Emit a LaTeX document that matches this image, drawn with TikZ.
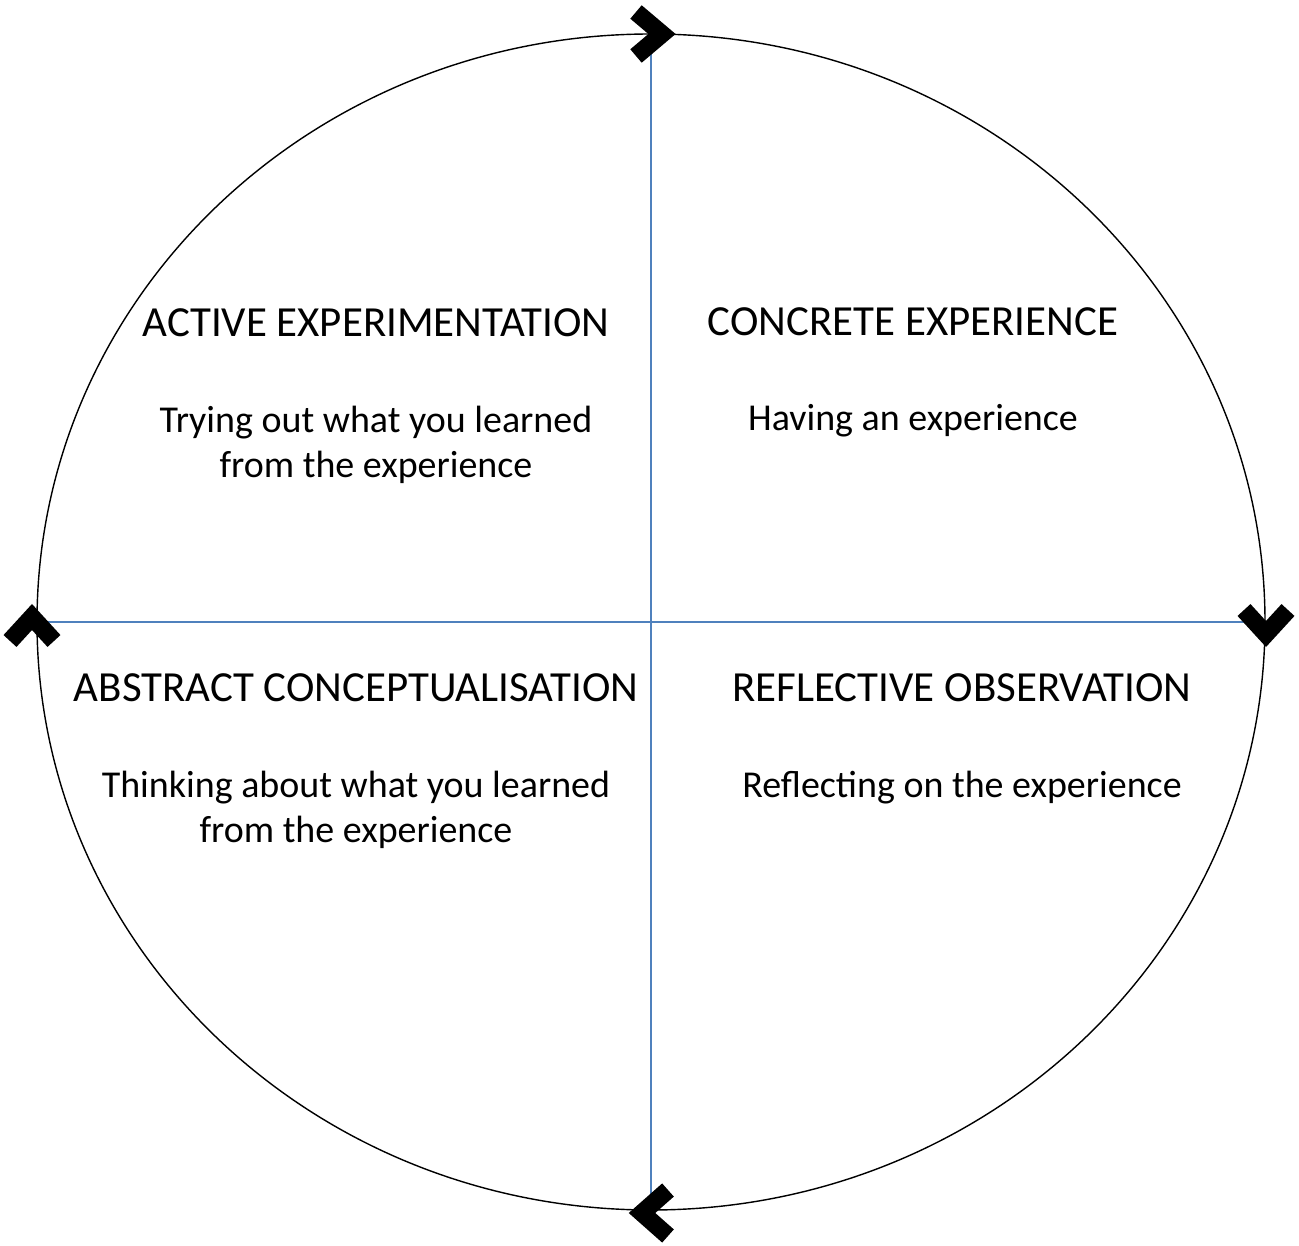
\documentclass[tikz,border=0pt]{standalone}
\usepackage{fontspec}
\setmainfont{Carlito}
\usetikzlibrary{positioning}
\definecolor{axisblue}{RGB}{79,129,189}
\begin{document}
\begin{tikzpicture}[x=0.01cm, y=-0.01cm,
    head/.style={font=\fontsize{12.2}{15}\selectfont},
    body/.style={font=\fontsize{10.8}{12.6}\selectfont, align=center},
    chev/.style={line width=5pt, miter limit=10}]

    %% Background
    \useasboundingbox (0,0) rectangle (1299,1246);

    % Cycle
    \draw[thin] (651,622) ellipse (614 and 588);

    % Axes
    \coordinate (top) at (651,34);
    \coordinate (bot) at (651,1210);
    \coordinate (lft) at (37,622);
    \coordinate (rgt) at (1265,622);
    \draw[axisblue] (top) -- (bot);
    \draw[axisblue] (lft) -- (rgt);

    % Chevrons
    \draw[chev] (636,12) -- (662,34) -- (636,56);
    \draw[chev] (1244,610) -- (1266,634) -- (1288,610);
    \draw[chev] (668,1190) -- (642,1213) -- (668,1236);
    \draw[chev] (10,641) -- (32,617) -- (54,641);

    % Quadrants
    \node[head] (ae) at (376,323) {ACTIVE EXPERIMENTATION};
    \node[body] (aet) at (376,445) {Trying out what you learned\\from the experience};
    \node[head] (ce) at (913,322) {CONCRETE EXPERIENCE};
    \node[body] (cet) at (913,421) {Having an experience};
    \node[head] (ac) at (356,688) {ABSTRACT CONCEPTUALISATION};
    \node[body] (act) at (356,810) {Thinking about what you learned\\from the experience};
    \node[head] (ro) at (962,688) {REFLECTIVE OBSERVATION};
    \node[body] (rot) at (962,788) {Reflecting on the experience};

\end{tikzpicture}
\end{document}
